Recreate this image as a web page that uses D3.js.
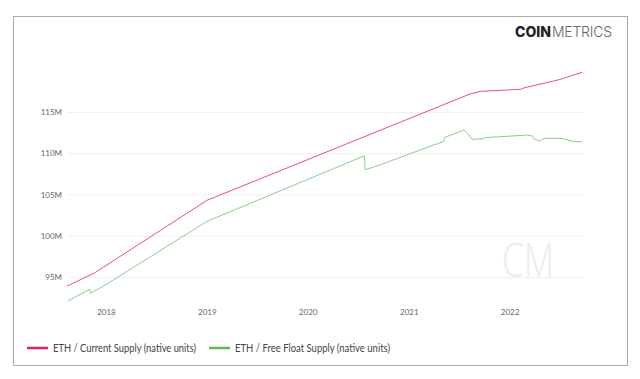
<!DOCTYPE html>
<html>
<head>
<meta charset="utf-8">
<script src="https://cdn.jsdelivr.net/npm/d3@7"></script>
<style>
  body { margin: 0; background: #fff; }
  svg { display: block; font-family: Lato, "Open Sans", sans-serif; }
</style>
</head>
<body>
<figure id="supply" style="margin:0"></figure>
<script>
// values (millions of ETH)
const yearTicks = ['2018-01-01', '2019-01-01', '2020-01-01', '2021-01-01', '2022-01-01'];
const supplyTicks = [95, 100, 105, 110, 115];

const currentDates = ['2017-08-13', '2017-11-21', '2019-01-02', '2021-08-12', '2021-09-17',
  '2022-02-09', '2022-02-20', '2022-06-27', '2022-09-20'];
const currentValues = [93.9, 95.5, 104.3, 117.2, 117.5, 117.75, 117.9, 118.9, 119.8];

const floatDates = ['2017-08-16', '2017-10-31', '2017-11-03', '2017-11-06', '2017-12-21',
  '2019-01-02', '2020-07-25', '2020-07-27', '2020-09-20', '2020-11-07', '2021-04-01',
  '2021-05-07', '2021-05-10', '2021-07-19', '2021-07-31', '2021-08-18', '2021-09-29',
  '2021-10-05', '2022-03-06', '2022-03-24', '2022-03-30', '2022-04-19', '2022-05-05',
  '2022-07-10', '2022-08-22', '2022-09-20'];
const floatValues = [92.1, 93.45, 93.55, 93.05, 93.85, 101.75, 109.7, 108.0, 108.6, 109.2, 111.0,
  111.4, 111.9, 112.8, 112.5, 111.7, 111.75, 111.9, 112.2, 112.1, 111.75, 111.5, 111.8,
  111.8, 111.4, 111.4];

const seriesNames = ['ETH / Current Supply (native units)', 'ETH / Free Float Supply (native units)'];
const seriesColors = ['#e0245e', '#5cb85c'];

const width = 640;
const height = 379;
const parse = d3.timeParse('%Y-%m-%d');

const svg = d3.select('figure#supply')
  .append('svg')
  .attr('width', width)
  .attr('height', height);

// outer frame
svg.append('rect')
  .attr('x', 13.5).attr('y', 16.5)
  .attr('width', 614).attr('height', 349)
  .attr('fill', '#fff')
  .attr('stroke', '#aaa');

// logo
const logo = svg.append('text')
  .attr('y', 37)
  .attr('font-family', 'Inter, "Open Sans", sans-serif')
  .attr('font-size', 14);
logo.append('tspan').attr('x', 515).attr('textLength', 36).attr('font-weight', 800).attr('fill', '#222').text('COIN');
logo.append('tspan').attr('x', 552).attr('textLength', 60).attr('font-weight', 300).attr('fill', '#666').text('METRICS');

const x = d3.scaleTime()
  .domain([parse('2017-08-13'), parse('2022-09-20')])
  .range([67, 582]);

const y = d3.scaleLinear()
  .domain([95, 115])
  .range([277, 112]);

// watermark
svg.append('text')
  .attr('x', 502).attr('y', 277)
  .attr('font-family', '"Open Sans", sans-serif')
  .attr('font-weight', 300)
  .attr('font-size', 48)
  .attr('textLength', 52)
  .attr('lengthAdjust', 'spacingAndGlyphs')
  .attr('fill', '#e9ecf3')
  .text('CM');

// y axis with grid
svg.append('g')
  .attr('transform', 'translate(68,0)')
  .call(d3.axisLeft(y).tickValues(supplyTicks).tickSize(-516).tickPadding(6).tickFormat(d => d + 'M'))
  .call(g => g.select('.domain').remove())
  .call(g => g.selectAll('line').attr('stroke', '#f0f0f0'))
  .call(g => g.selectAll('text').attr('fill', '#666').attr('font-size', 8).attr('font-family', 'Lato, sans-serif'));

// x axis
svg.append('g')
  .attr('transform', 'translate(0,300)')
  .call(d3.axisBottom(x).tickValues(yearTicks.map(parse)).tickSize(0).tickPadding(9).tickFormat(d3.timeFormat('%Y')))
  .call(g => g.select('.domain').remove())
  .call(g => g.selectAll('text').attr('fill', '#666').attr('font-size', 8).attr('font-family', 'Lato, sans-serif'));

const line = d3.line()
  .x(d => x(d[0]))
  .y(d => y(d[1]));

const series = [
  d3.zip(currentDates.map(parse), currentValues),
  d3.zip(floatDates.map(parse), floatValues)
];

svg.selectAll('path.series')
  .data(series)
  .enter()
  .append('path')
  .attr('class', 'series')
  .attr('d', line)
  .attr('fill', 'none')
  .attr('stroke', (d, i) => seriesColors[i])
  .attr('stroke-width', 1)
  .attr('stroke-opacity', (d, i) => i ? 0.7 : 0.8);

// legend
const legendX = [27, 209];
const legendTextWidth = [143, 155];
const legend = svg.selectAll('g.legend')
  .data(seriesNames)
  .enter()
  .append('g')
  .attr('class', 'legend')
  .attr('transform', (d, i) => 'translate(' + legendX[i] + ',348)');

legend.append('line')
  .attr('x1', 0).attr('x2', 21)
  .attr('stroke', (d, i) => seriesColors[i])
  .attr('stroke-width', 2.5);

legend.append('text')
  .attr('x', 26).attr('dy', '0.35em')
  .attr('font-size', 11)
  .attr('textLength', (d, i) => legendTextWidth[i])
  .attr('lengthAdjust', 'spacingAndGlyphs')
  .attr('fill', '#444')
  .text(d => d);
</script>
</body>
</html>
